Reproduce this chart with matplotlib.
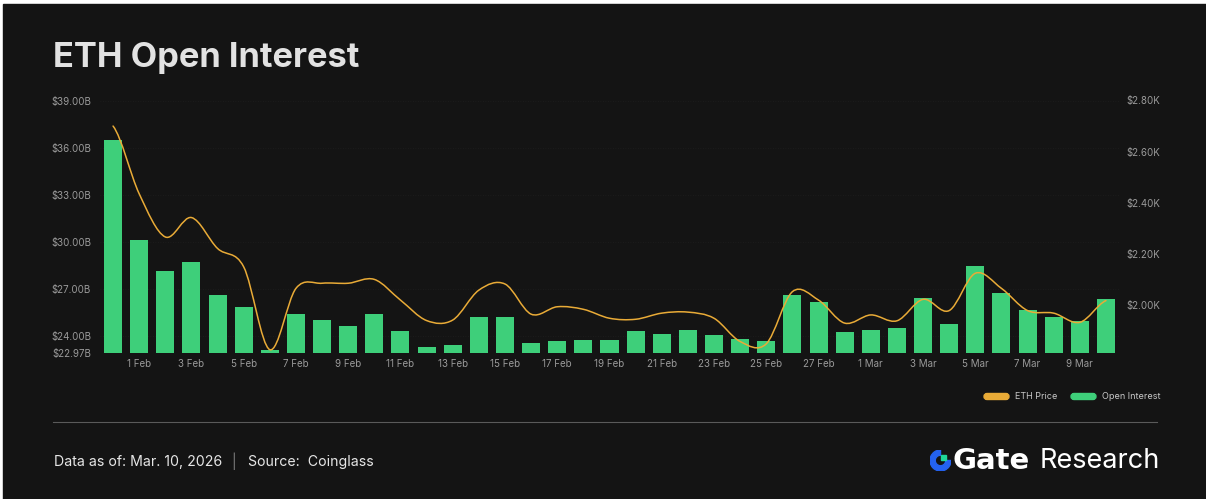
import matplotlib
matplotlib.use("Agg")
import matplotlib.pyplot as plt
from matplotlib.path import Path
from matplotlib.patches import PathPatch, FancyBboxPatch, Rectangle, Wedge
from matplotlib.lines import Line2D
import numpy as np

# ---- data ----
dates = ["31 Jan"] + [f"{d} Feb" for d in range(1, 29)] + [f"{d} Mar" for d in range(1, 11)]

open_interest = [36.50, 30.12, 28.14, 28.73, 26.65, 25.84, 23.12, 25.40, 25.03, 24.63,
                 25.41, 24.33, 23.33, 23.46, 25.22, 25.20, 23.59, 23.67, 23.78, 23.78,
                 24.35, 24.14, 24.42, 24.07, 23.80, 23.72, 26.65, 26.18, 24.29, 24.42,
                 24.50, 26.42, 24.78, 28.50, 26.75, 25.69, 25.22, 24.99, 26.37]  # $B

eth_price = [2.700, 2.435, 2.266, 2.342, 2.221, 2.149, 1.825, 2.065, 2.085, 2.085,
             2.100, 2.019, 1.939, 1.941, 2.058, 2.082, 1.964, 1.993, 1.983, 1.948,
             1.944, 1.968, 1.972, 1.948, 1.857, 1.848, 2.052, 2.019, 1.929, 1.961,
             1.938, 2.022, 1.978, 2.124, 2.065, 1.978, 1.968, 1.932, 2.017]  # $K

left_ticks = [22.97, 24, 27, 30, 33, 36, 39]
right_ticks = [2.0, 2.2, 2.4, 2.6, 2.8]

# ---- style ----
BG = "#141414"
GREEN = "#3ecf7a"
ORANGE = "#e9ab37"
TICK = "#9a9a9a"
plt.rcParams["font.family"] = ["Inter", "DejaVu Sans"]

W, H = 1206, 499
fig = plt.figure(figsize=(W / 100, H / 100), dpi=100, facecolor="white")
fig.patches.append(Rectangle((3 / W, 0), 1, (H - 4) / H, transform=fig.transFigure,
                             color=BG, zorder=-10))

def fx(px):
    return px / W

def fy(py):
    return (H - py) / H

# ---- main axes ----
ax = fig.add_axes([fx(100), fy(352.5), fx(1019), 252 / H])
ax.set_facecolor("none")
x = np.arange(len(dates))
ax.bar(x, open_interest, width=0.69, color=GREEN, zorder=2)
ax.set_xlim(-0.5, len(dates) - 0.5)
ax.set_ylim(22.97, 39.0)
ax.set_yticks(left_ticks)
ax.set_yticklabels([f"${v:.2f}B" for v in left_ticks])
ax.set_xticks(x[1::2])
ax.set_xticklabels(dates[1::2])
ax.grid(axis="y", color="#1e1e1e", linestyle=(0, (1, 2)), linewidth=0.6, zorder=0)
for s in ax.spines.values():
    s.set_visible(False)
ax.tick_params(axis="y", length=0, colors=TICK, labelsize=7, pad=6.5)
ax.tick_params(axis="x", length=0, colors=TICK, labelsize=7, pad=5)

ax2 = ax.twinx()
ax2.set_ylim(1.814, 2.80)
ax2.set_yticks(right_ticks)
ax2.set_yticklabels([f"${v:.2f}K" for v in right_ticks])
for s in ax2.spines.values():
    s.set_visible(False)
ax2.tick_params(axis="y", length=0, colors=TICK, labelsize=7, pad=5)

# smooth price line (catmull-rom rendered as bezier path)
n = len(eth_price)
verts = [(x[0], eth_price[0])]
codes = [Path.MOVETO]
for i in range(n - 1):
    p0 = eth_price[i - 1] if i > 0 else eth_price[i]
    p1 = eth_price[i]
    p2 = eth_price[i + 1]
    p3 = eth_price[i + 2] if i + 2 < n else p2
    verts += [(x[i] + 1 / 3, p1 + (p2 - p0) / 6),
              (x[i + 1] - 1 / 3, p2 - (p3 - p1) / 6),
              (x[i + 1], p2)]
    codes += [Path.CURVE4] * 3
ax2.add_patch(PathPatch(Path(verts, codes), facecolor="none", edgecolor=ORANGE,
                        linewidth=1.1, zorder=3, capstyle="round"))

# ---- title ----
fig.text(fx(53), fy(58), "ETH Open Interest", fontsize=24.8, fontweight="bold",
         color="#e2e2e2", va="center", ha="left")

# ---- legend ----
for px0, col, lab in [(984, ORANGE, "ETH Price"), (1071, GREEN, "Open Interest")]:
    fig.patches.append(FancyBboxPatch((fx(px0), fy(399.5)), fx(25), 6 / H,
                                      boxstyle="round,pad=0,rounding_size=0.0025",
                                      transform=fig.transFigure, color=col,
                                      mutation_aspect=W / H))
    fig.text(fx(px0 + 31), fy(396.5), lab, fontsize=6.5, color="#c8c8c8",
             va="center", ha="left")

# ---- separator & footer ----
fig.add_artist(Line2D([fx(53), fx(1157)], [fy(422), fy(422)], color="#5a5a5a",
                      linewidth=0.8, transform=fig.transFigure))
fig.text(fx(54), fy(462), "Data as of: Mar. 10, 2026", fontsize=10.2, color="#e6e6e6",
         va="center", ha="left")
fig.text(fx(234), fy(461), "|", fontsize=10, color="#777777", va="center", ha="center")
fig.text(fx(248), fy(462), "Source:  Coinglass", fontsize=10.2, color="#e6e6e6",
         va="center", ha="left")

# ---- logo ----
icon = fig.add_axes([fx(930), fy(471), fx(21), 21 / H])
icon.set_xlim(-1, 1)
icon.set_ylim(-1, 1)
icon.set_aspect("equal")
icon.axis("off")
icon.add_patch(Wedge((0, 0), 1, 90, 360, width=0.5, color="#2462f0"))
icon.add_patch(Rectangle((0.02, 0.02), 0.46, 0.46, color="#1fd69b"))
fig.text(fx(952), fy(461), "Gate", fontsize=21, fontweight="bold", color="white",
         family="DejaVu Sans", va="center", ha="left")
fig.text(fx(1040), fy(461), "Research", fontsize=19.5, color="white",
         va="center", ha="left")

fig.savefig("out.png", dpi=100, facecolor=fig.get_facecolor())
